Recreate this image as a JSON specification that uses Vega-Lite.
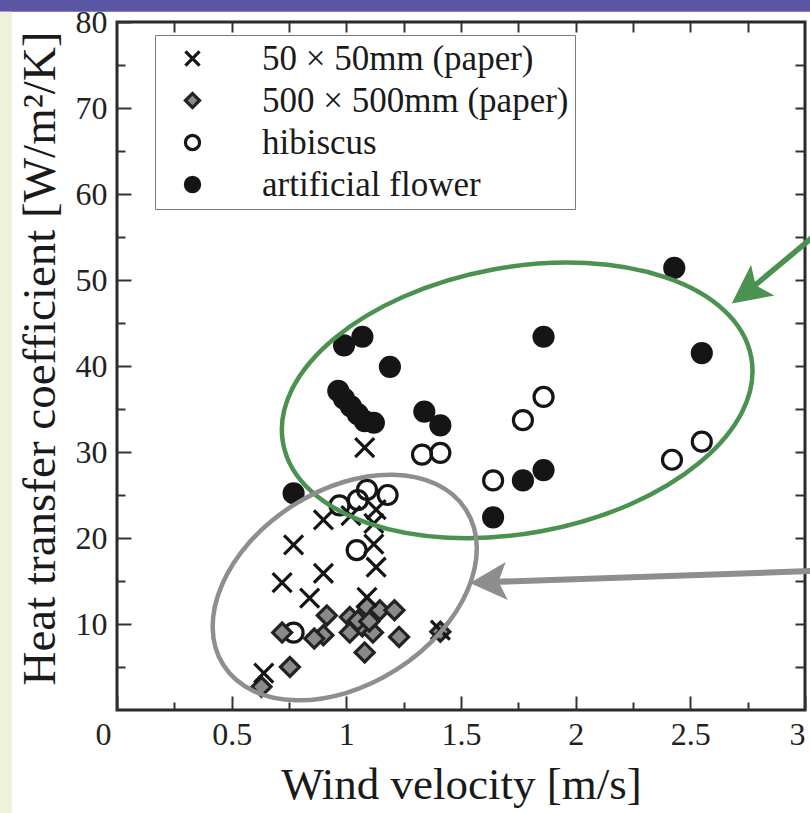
{
  "$schema": "https://vega.github.io/schema/vega-lite/v6.json",
  "width": 688,
  "height": 688,
  "autosize": {"type": "none"},
  "padding": {"left": 117, "top": 22, "right": 5, "bottom": 103},
  "background": "white",
  "config": {
    "view": {"stroke": "#2a2a2a", "strokeWidth": 3},
    "font": "Liberation Serif",
    "legend": {"labelFont": "Liberation Serif", "titleFont": "Liberation Serif"},
    "axis": {"labelFont": "Liberation Serif", "titleFont": "Liberation Serif"}
  },
  "resolve": {"axis": {"x": "independent", "y": "independent"}},
  "layer": [
    {
      "data": {"values": [{"x1": -0.53, "x2": 3.05, "y1": 81.2, "y2": 83.5}]},
      "mark": {"type": "rect", "color": "#5b56a3", "opacity": 1},
      "encoding": {
        "x": {"field": "x1", "type": "quantitative", "scale": {"domain": [0, 3], "nice": false}, "axis": null},
        "x2": {"field": "x2"},
        "y": {"field": "y1", "type": "quantitative", "scale": {"domain": [0, 80], "nice": false}, "axis": null},
        "y2": {"field": "y2"}
      }
    },
    {
      "data": {"values": [{"x1": -0.53, "x2": -0.458, "y1": -13, "y2": 81.2}]},
      "mark": {"type": "rect", "color": "#eef2dd", "opacity": 1},
      "encoding": {
        "x": {"field": "x1", "type": "quantitative", "scale": {"domain": [0, 3], "nice": false}, "axis": null},
        "x2": {"field": "x2"},
        "y": {"field": "y1", "type": "quantitative", "scale": {"domain": [0, 80], "nice": false}, "axis": null},
        "y2": {"field": "y2"}
      }
    },
    {
      "data": {"values": [{"v": 0, "h": 0}]},
      "mark": {"type": "point", "opacity": 0},
      "encoding": {
        "x": {"field": "v", "type": "quantitative", "scale": {"domain": [0, 3], "nice": false},
          "axis": {"orient": "bottom", "values": [0.25, 0.75, 1.25, 1.75, 2.25, 2.75], "tickSize": -8, "tickWidth": 2, "tickColor": "#333", "labels": false, "domain": false, "grid": false, "title": null}},
        "y": {"field": "h", "type": "quantitative", "scale": {"domain": [0, 80], "nice": false},
          "axis": {"orient": "left", "values": [5, 15, 25, 35, 45, 55, 65, 75], "tickSize": -8, "tickWidth": 2, "tickColor": "#333", "labels": false, "domain": false, "grid": false, "title": null}}
      }
    },
    {
      "data": {"values": [{"v": 0, "h": 0}]},
      "mark": {"type": "point", "opacity": 0},
      "encoding": {
        "x": {"field": "v", "type": "quantitative", "scale": {"domain": [0, 3], "nice": false},
          "axis": {"orient": "top", "values": [0.25, 0.5, 0.75, 1, 1.25, 1.5, 1.75, 2, 2.25, 2.5, 2.75], "tickSize": -10, "tickWidth": 2, "tickColor": "#333", "labels": false, "domain": false, "grid": false, "title": null}},
        "y": {"field": "h", "type": "quantitative", "scale": {"domain": [0, 80], "nice": false},
          "axis": {"orient": "right", "values": [5, 10, 15, 20, 25, 30, 35, 40, 45, 50, 55, 60, 65, 70, 75], "tickSize": -10, "tickWidth": 2, "tickColor": "#333", "labels": false, "domain": false, "grid": false, "title": null}}
      }
    },
    {
      "data": {"values": [
        {"s": "artificial flower", "v": 0.99, "h": 42.4},
        {"s": "artificial flower", "v": 1.07, "h": 43.4},
        {"s": "artificial flower", "v": 1.19, "h": 39.9},
        {"s": "artificial flower", "v": 0.965, "h": 37.1},
        {"s": "artificial flower", "v": 0.99, "h": 36.2},
        {"s": "artificial flower", "v": 1.02, "h": 35.3},
        {"s": "artificial flower", "v": 1.05, "h": 34.4},
        {"s": "artificial flower", "v": 1.08, "h": 33.6},
        {"s": "artificial flower", "v": 1.12, "h": 33.4},
        {"s": "artificial flower", "v": 1.34, "h": 34.7},
        {"s": "artificial flower", "v": 1.41, "h": 33.1},
        {"s": "artificial flower", "v": 0.77, "h": 25.2},
        {"s": "artificial flower", "v": 1.86, "h": 43.4},
        {"s": "artificial flower", "v": 1.77, "h": 26.7},
        {"s": "artificial flower", "v": 1.86, "h": 27.9},
        {"s": "artificial flower", "v": 1.64, "h": 22.4},
        {"s": "artificial flower", "v": 2.43, "h": 51.4},
        {"s": "artificial flower", "v": 2.55, "h": 41.5},
        {"s": "hibiscus", "v": 1.33, "h": 29.7},
        {"s": "hibiscus", "v": 1.41, "h": 29.9},
        {"s": "hibiscus", "v": 1.86, "h": 36.4},
        {"s": "hibiscus", "v": 1.77, "h": 33.7},
        {"s": "hibiscus", "v": 1.64, "h": 26.7},
        {"s": "hibiscus", "v": 2.42, "h": 29.1},
        {"s": "hibiscus", "v": 2.55, "h": 31.2},
        {"s": "hibiscus", "v": 0.97, "h": 23.8},
        {"s": "hibiscus", "v": 1.05, "h": 24.4},
        {"s": "hibiscus", "v": 1.09, "h": 25.6},
        {"s": "hibiscus", "v": 1.18, "h": 25.0},
        {"s": "hibiscus", "v": 1.045, "h": 18.6},
        {"s": "hibiscus", "v": 0.77, "h": 9.0},
        {"s": "500 × 500mm (paper)", "v": 0.72, "h": 9.0},
        {"s": "500 × 500mm (paper)", "v": 0.915, "h": 11.0},
        {"s": "500 × 500mm (paper)", "v": 0.9, "h": 8.7},
        {"s": "500 × 500mm (paper)", "v": 0.86, "h": 8.3},
        {"s": "500 × 500mm (paper)", "v": 1.015, "h": 10.8},
        {"s": "500 × 500mm (paper)", "v": 1.09, "h": 12.0},
        {"s": "500 × 500mm (paper)", "v": 1.146, "h": 11.6},
        {"s": "500 × 500mm (paper)", "v": 1.21, "h": 11.6},
        {"s": "500 × 500mm (paper)", "v": 1.015, "h": 9.0},
        {"s": "500 × 500mm (paper)", "v": 1.07, "h": 9.7},
        {"s": "500 × 500mm (paper)", "v": 1.116, "h": 9.0},
        {"s": "500 × 500mm (paper)", "v": 1.08, "h": 6.7},
        {"s": "500 × 500mm (paper)", "v": 1.23, "h": 8.5},
        {"s": "500 × 500mm (paper)", "v": 0.754, "h": 5.0},
        {"s": "500 × 500mm (paper)", "v": 0.63, "h": 2.7},
        {"s": "500 × 500mm (paper)", "v": 1.41, "h": 9.1},
        {"s": "500 × 500mm (paper)", "v": 1.05, "h": 10.4},
        {"s": "500 × 500mm (paper)", "v": 1.1, "h": 10.3},
        {"s": "50 × 50mm (paper)", "v": 1.08, "h": 30.5},
        {"s": "50 × 50mm (paper)", "v": 0.9, "h": 22.1},
        {"s": "50 × 50mm (paper)", "v": 1.13, "h": 23.3},
        {"s": "50 × 50mm (paper)", "v": 1.12, "h": 21.7},
        {"s": "50 × 50mm (paper)", "v": 0.77, "h": 19.2},
        {"s": "50 × 50mm (paper)", "v": 0.9, "h": 15.9},
        {"s": "50 × 50mm (paper)", "v": 0.72, "h": 14.8},
        {"s": "50 × 50mm (paper)", "v": 0.84, "h": 13.0},
        {"s": "50 × 50mm (paper)", "v": 1.09, "h": 13.1},
        {"s": "50 × 50mm (paper)", "v": 1.13, "h": 16.6},
        {"s": "50 × 50mm (paper)", "v": 1.12, "h": 19.3},
        {"s": "50 × 50mm (paper)", "v": 0.64, "h": 4.3},
        {"s": "50 × 50mm (paper)", "v": 1.41, "h": 9.3},
        {"s": "50 × 50mm (paper)", "v": 1.02, "h": 22.6}
      ]},
      "mark": {"type": "point", "filled": true, "opacity": 1, "size": 360, "strokeWidth": 3.2},
      "encoding": {
        "x": {"field": "v", "type": "quantitative", "scale": {"domain": [0, 3], "nice": false},
          "axis": {"orient": "bottom", "values": [0, 0.5, 1, 1.5, 2, 2.5, 3], "format": "~g", "tickSize": -14, "tickWidth": 2, "tickColor": "#333", "domain": false, "grid": false,
            "labelFont": "Liberation Serif", "labelFontSize": 32, "labelColor": "#222", "labelPadding": 23,
            "labelOffset": {"condition": {"test": "datum.value == 0", "value": -22}, "value": 0},
            "title": "Wind velocity [m/s]", "titleFont": "Liberation Serif", "titleFontSize": 45, "titleFontWeight": "normal", "titleColor": "#1a1a1a",
            "titleX": 344, "titleY": 74, "titleBaseline": "middle"}},
        "y": {"field": "h", "type": "quantitative", "scale": {"domain": [0, 80], "nice": false},
          "axis": {"orient": "left", "values": [10, 20, 30, 40, 50, 60, 70, 80], "tickSize": -14, "tickWidth": 2, "tickColor": "#333", "domain": false, "grid": false,
            "labelFont": "Liberation Serif", "labelFontSize": 32, "labelColor": "#222", "labelPadding": 24,
            "title": "Heat transfer coefficient [W/m²/K]", "titleFont": "Liberation Serif", "titleFontSize": 47, "titleFontWeight": "normal", "titleColor": "#1a1a1a",
            "titleX": -77, "titleY": 336, "titleAngle": -90, "titleBaseline": "middle", "titleAlign": "center"}},
        "shape": {"field": "s", "type": "nominal",
          "scale": {"domain": ["50 × 50mm (paper)", "500 × 500mm (paper)", "hibiscus", "artificial flower"],
            "range": ["M -1 -1 L 1 1 M -1 1 L 1 -1", "diamond", "circle", "circle"]},
          "legend": {"orient": "none", "legendX": 38, "legendY": 13, "title": null, "padding": 6, "strokeColor": "#7a7a7a", "fillColor": "white",
            "labelFont": "Liberation Serif", "labelFontSize": 35, "labelColor": "#1a1a1a", "labelOffset": 52, "labelLimit": 500,
            "symbolOffset": 14, "symbolSize": 200, "symbolStrokeWidth": 3.2, "rowPadding": 6}},
        "fill": {"field": "s", "type": "nominal",
          "scale": {"domain": ["50 × 50mm (paper)", "500 × 500mm (paper)", "hibiscus", "artificial flower"],
            "range": ["transparent", "#8a8a8a", "transparent", "#151515"]},
          "legend": {"orient": "none", "legendX": 38, "legendY": 13, "title": null, "padding": 6, "strokeColor": "#7a7a7a", "fillColor": "white",
            "labelFont": "Liberation Serif", "labelFontSize": 35, "labelColor": "#1a1a1a", "labelOffset": 52, "labelLimit": 500,
            "symbolOffset": 14, "symbolSize": 200, "symbolStrokeWidth": 3.2, "rowPadding": 6}},
        "stroke": {"field": "s", "type": "nominal",
          "scale": {"domain": ["50 × 50mm (paper)", "500 × 500mm (paper)", "hibiscus", "artificial flower"],
            "range": ["#151515", "#222222", "#151515", "#151515"]},
          "legend": {"orient": "none", "legendX": 38, "legendY": 13, "title": null, "padding": 6, "strokeColor": "#7a7a7a", "fillColor": "white",
            "labelFont": "Liberation Serif", "labelFontSize": 35, "labelColor": "#1a1a1a", "labelOffset": 52, "labelLimit": 500,
            "symbolOffset": 14, "symbolSize": 200, "symbolStrokeWidth": 3.2, "rowPadding": 6}}
      }
    },
    {
      "data": {"values": [{"v": 1.745, "h": 36.0}]},
      "mark": {"type": "point", "filled": false, "opacity": 1, "stroke": "#4b9150", "strokeWidth": 4.5, "fill": null,
        "shape": "M 1 0 C 1 0.3087 0.5523 0.559 0 0.559 C -0.5523 0.559 -1 0.3087 -1 0 C -1 -0.3087 -0.5523 -0.559 0 -0.559 C 0.5523 -0.559 1 -0.3087 1 0 Z",
        "size": 226576, "angle": -10.4},
      "encoding": {
        "x": {"field": "v", "type": "quantitative", "scale": {"domain": [0, 3], "nice": false}, "axis": null},
        "y": {"field": "h", "type": "quantitative", "scale": {"domain": [0, 80], "nice": false}, "axis": null}
      }
    },
    {
      "data": {"values": [{"v": 0.993, "h": 14.24}]},
      "mark": {"type": "point", "filled": false, "opacity": 1, "stroke": "#8e8e8e", "strokeWidth": 4.5, "fill": null,
        "shape": "M 1 0 C 1 0.3722 0.5523 0.674 0 0.674 C -0.5523 0.674 -1 0.3722 -1 0 C -1 -0.3722 -0.5523 -0.674 0 -0.674 C 0.5523 -0.674 1 -0.3722 1 0 Z",
        "size": 82944, "angle": -32.7},
      "encoding": {
        "x": {"field": "v", "type": "quantitative", "scale": {"domain": [0, 3], "nice": false}, "axis": null},
        "y": {"field": "h", "type": "quantitative", "scale": {"domain": [0, 80], "nice": false}, "axis": null}
      }
    },
    {
      "data": {"values": [{"x1": 3.03, "y1": 54.9, "x2": 2.748, "y2": 48.63}]},
      "mark": {"type": "rule", "color": "#4b9150", "strokeWidth": 5.5, "opacity": 1},
      "encoding": {
        "x": {"field": "x1", "type": "quantitative", "scale": {"domain": [0, 3], "nice": false}, "axis": null},
        "y": {"field": "y1", "type": "quantitative", "scale": {"domain": [0, 80], "nice": false}, "axis": null},
        "x2": {"field": "x2"},
        "y2": {"field": "y2"}
      }
    },
    {
      "data": {"values": [{"x1": 3.03, "y1": 16.16, "x2": 1.63, "y2": 14.88}]},
      "mark": {"type": "rule", "color": "#8e8e8e", "strokeWidth": 6, "opacity": 1},
      "encoding": {
        "x": {"field": "x1", "type": "quantitative", "scale": {"domain": [0, 3], "nice": false}, "axis": null},
        "y": {"field": "y1", "type": "quantitative", "scale": {"domain": [0, 80], "nice": false}, "axis": null},
        "x2": {"field": "x2"},
        "y2": {"field": "y2"}
      }
    },
    {
      "data": {"values": [{"v": 2.748, "h": 48.63}]},
      "mark": {"type": "point", "filled": true, "opacity": 1, "color": "#4b9150", "strokeWidth": 0,
        "shape": "M 1 0 L -1 -1 L -0.55 0 L -1 1 Z", "size": 1500, "angle": 143},
      "encoding": {
        "x": {"field": "v", "type": "quantitative", "scale": {"domain": [0, 3], "nice": false}, "axis": null},
        "y": {"field": "h", "type": "quantitative", "scale": {"domain": [0, 80], "nice": false}, "axis": null}
      }
    },
    {
      "data": {"values": [{"v": 1.619, "h": 14.88}]},
      "mark": {"type": "point", "filled": true, "opacity": 1, "color": "#8e8e8e", "strokeWidth": 0,
        "shape": "M 1 0 L -1 -1.03 L -0.55 0 L -1 1.03 Z", "size": 1369, "angle": 177},
      "encoding": {
        "x": {"field": "v", "type": "quantitative", "scale": {"domain": [0, 3], "nice": false}, "axis": null},
        "y": {"field": "h", "type": "quantitative", "scale": {"domain": [0, 80], "nice": false}, "axis": null}
      }
    }
  ]
}
